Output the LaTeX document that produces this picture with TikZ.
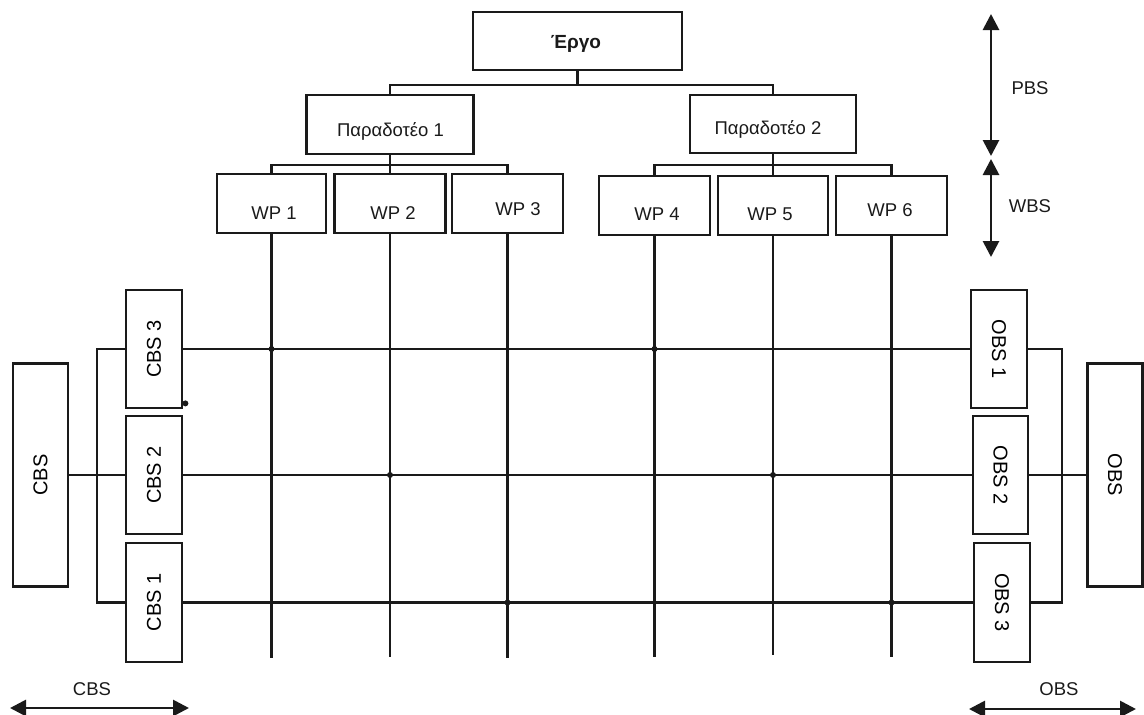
\documentclass[tikz,border=0pt]{standalone}
\usepackage{fontspec}
\setmainfont{Liberation Sans}
\usepackage{graphicx}
\usetikzlibrary{arrows.meta}
\definecolor{ink}{HTML}{1A1A1A}
\begin{document}
\begin{tikzpicture}[x=1pt,y=-1pt,
  box/.style={draw=ink,line width=2.8pt,inner sep=0pt,fill=white},
  hbox/.style={box,minimum width=#1,minimum height=59pt},
  vbox/.style={box,minimum width=56pt,minimum height=#1,font=\fontsize{20}{24}\selectfont},
  lbl/.style={anchor=base,inner sep=0pt,text=ink,font=\fontsize{18.5}{22}\selectfont},
  wire/.style={draw=ink,line width=2.5pt},
  junction/.style={fill=ink},
  span/.style={draw=ink,line width=2.8pt,{Triangle[length=16pt,width=16pt]}-{Triangle[length=16pt,width=16pt]}}]
\useasboundingbox (0,0) rectangle (1144,715);

% top of the breakdown: project and deliverables
\node[hbox=209pt,minimum height=58pt] (ergo) at (577.5,41) {};
\node[lbl,font=\fontsize{19}{22}\selectfont\bfseries] (ergoT) at (576,48) {Έργο};
\node[hbox=167pt] (p1) at (390,124.5) {};
\node[lbl] (p1T) at (390.5,136) {Παραδοτέο 1};
\node[hbox=166pt,minimum height=58pt] (p2) at (773,124) {};
\node[lbl] (p2T) at (768,134.5) {Παραδοτέο 2};

% work packages
\node[hbox=109pt] (wp1) at (271.5,203.5) {};
\node[hbox=111pt] (wp2) at (390,203.5) {};
\node[hbox=111pt] (wp3) at (507.5,203.5) {};
\node[hbox=111pt] (wp4) at (654.5,205.5) {};
\node[hbox=110pt] (wp5) at (773,205.5) {};
\node[hbox=111pt] (wp6) at (891.5,205.5) {};
\node[lbl] (wp1T) at (274,219.3) {WP 1};
\node[lbl] (wp2T) at (393,219.3) {WP 2};
\node[lbl] (wp3T) at (518,215) {WP 3};
\node[lbl] (wp4T) at (657,220) {WP 4};
\node[lbl] (wp5T) at (770,220) {WP 5};
\node[lbl] (wp6T) at (890,216) {WP 6};

% tree connectors
\coordinate (topbar) at (577.5,85);
\coordinate (bar1) at (390,165);
\coordinate (bar2) at (773,165);
\draw[wire] (ergo.south) -- (topbar);
\draw[wire] (p1.north) |- (topbar) -| (p2.north);
\draw[wire] (p1.south) -- (wp2.north);
\draw[wire] (wp1.north) |- (bar1) -| (wp3.north);
\draw[wire] (p2.south) -- (wp5.north);
\draw[wire] (wp4.north) |- (bar2) -| (wp6.north);

% cost breakdown (left) and organisation breakdown (right)
\node[vbox=118pt] (cbs3) at (154,349) {\rotatebox{90}{CBS 3}};
\node[vbox=118pt] (cbs2) at (154,475) {\rotatebox{90}{CBS 2}};
\node[vbox=119pt] (cbs1) at (154,602.5) {\rotatebox{90}{CBS 1}};
\node[vbox=223pt,minimum width=55pt] (cbs) at (40.5,475) {\rotatebox{90}{CBS}};
\node[vbox=118pt] (obs1) at (999,349) {\rotatebox{-90}{OBS 1}};
\node[vbox=118pt,minimum width=55pt] (obs2) at (1000.5,475) {\rotatebox{-90}{OBS 2}};
\node[vbox=119pt] (obs3) at (1002,602.5) {\rotatebox{-90}{OBS 3}};
\node[vbox=223pt,minimum width=55pt] (obs) at (1115,475) {\rotatebox{-90}{OBS}};

% vertical work package lines
\coordinate (wp1end) at (271.5,658);
\coordinate (wp2end) at (390,657);
\coordinate (wp3end) at (507.5,658);
\coordinate (wp4end) at (654.5,657);
\coordinate (wp5end) at (773,655);
\coordinate (wp6end) at (891.5,657);
\foreach \w in {1,...,6}{\draw[wire] (wp\w.south) -- (wp\w end);}

% horizontal matrix lines
\draw[wire] (cbs3) -- (obs1);
\draw[wire] (cbs2) -- (obs2);
\draw[wire] (cbs1) -- (obs3);
\coordinate (lbar) at (97,475);
\coordinate (rbar) at (1062,475);
\draw[wire] (cbs3.west) -| (lbar) |- (cbs1.west);
\draw[wire] (cbs) -- (cbs2);
\draw[wire] (obs1.east) -| (rbar) |- (obs3.east);
\draw[wire] (obs2) -- (obs);

% junction dots
\fill[junction] (wp1.south |- cbs3) circle (3pt);
\fill[junction] (wp4.south |- cbs3) circle (3pt);
\fill[junction] (wp2.south |- cbs2) circle (3pt);
\fill[junction] (wp5.south |- cbs2) circle (3pt);
\fill[junction] (wp3.south |- cbs1) circle (3pt);
\fill[junction] (wp6.south |- cbs1) circle (3pt);
\fill[junction] ([shift={(2,-6)}]cbs3.south east) circle (3pt);

% level spans
\coordinate (pbsA) at (991,14);
\coordinate (pbsB) at (991,156);
\coordinate (wbsA) at (991,159);
\coordinate (wbsB) at (991,257);
\coordinate (cbsA) at (10,708);
\coordinate (cbsB) at (189,708);
\coordinate (obsA) at (969,709);
\coordinate (obsB) at (1136,709);
\draw[span] (pbsA) -- (pbsB);
\draw[span] (wbsA) -- (wbsB);
\draw[span] (cbsA) -- (cbsB);
\draw[span] (obsA) -- (obsB);
\node[lbl] (pbsT) at (1030,94) {PBS};
\node[lbl] (wbsT) at (1030,212) {WBS};
\node[lbl] (cbsT) at (92,695) {CBS};
\node[lbl] (obsT) at (1059,695) {OBS};
\end{tikzpicture}
\end{document}
